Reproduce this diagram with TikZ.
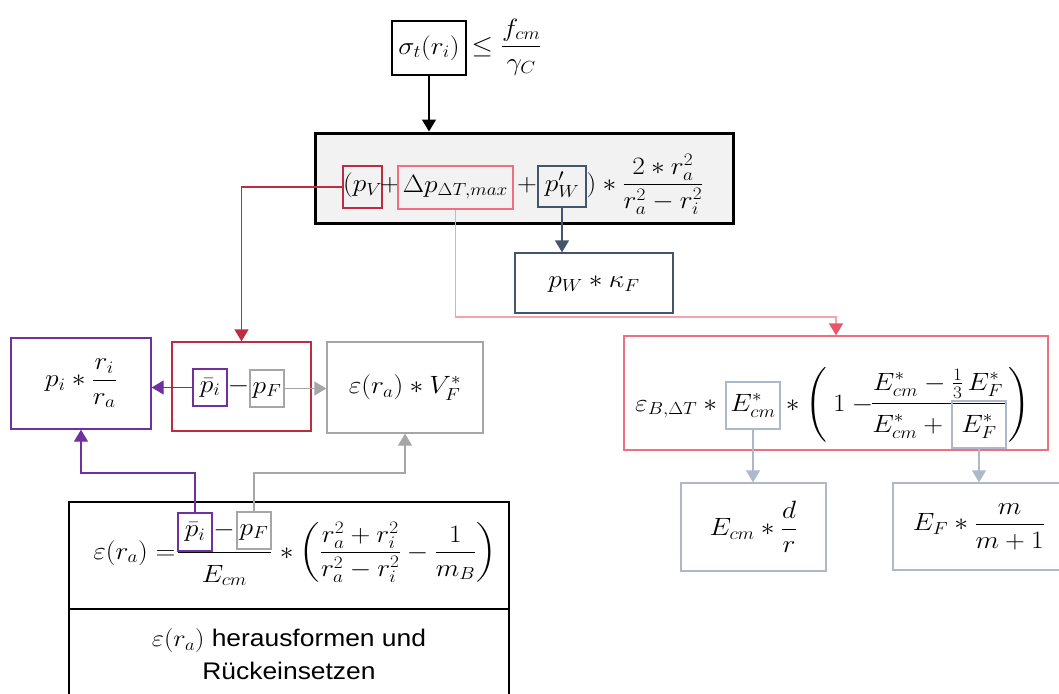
\RequirePackage{fix-cm}
\documentclass[tikz,border=0pt]{standalone}
\usepackage{amsmath}
\usepackage[no-math]{fontspec}
\usepackage{graphicx}
\usetikzlibrary{arrows.meta,calc}
\newfontfamily\lsans[FakeStretch=1.1]{Liberation Sans}
\newcommand\sx[1]{\scalebox{1.1}[1]{#1}}
\definecolor{redc}{HTML}{BE2C44}
\definecolor{pinkc}{HTML}{EE7080}
\definecolor{pinkl}{HTML}{F4A2AC}
\definecolor{pinkd}{HTML}{E8566A}
\definecolor{slatec}{HTML}{44546A}
\definecolor{purplec}{HTML}{7030A0}
\definecolor{grayc}{HTML}{A6A6A6}
\definecolor{bluec}{HTML}{ADB9CA}
\definecolor{fillg}{HTML}{F2F2F2}
\tikzset{
  bx/.style={draw, inner sep=0pt, text height=17pt, text depth=8pt},
  fm/.style={inner sep=0pt, text height=17pt, text depth=8pt},
  plainbox/.style={draw, inner sep=0pt},
  txt/.style={inner sep=0pt},
  arr/.style={-{Triangle[width=14pt,length=12pt]}, line width=1.3pt},
}
\begin{document}
\begin{tikzpicture}[x=1pt, y=-1pt, font=\fontsize{25}{30}\selectfont, line width=1.3pt]
\useasboundingbox (0,0) rectangle (1059,693);
\coordinate (pinkY) at (0,317);
\coordinate (lowY) at (0,473);

% top
\node[plainbox, draw=black, minimum width=74pt, minimum height=54pt] (sig) at (429,48) {\sx{$\sigma_t(r_i)$}};
\node[txt, anchor=base west] (sigr) at (471,53) {\sx{$\leq \dfrac{f_{cm}}{\gamma_C}$}};

% main
\node[plainbox, draw=black, fill=fillg, line width=3pt, minimum width=418pt, minimum height=90pt] (main) at (524,178) {};
\node[bx, draw=redc, minimum width=39pt, minimum height=42pt] (pv) at (362.5,187) {\sx{$(p_V$}};
\node[fm] (pl1) at (390,186.5) {\sx{$+$}};
\node[bx, draw=pinkc, minimum width=115pt, minimum height=43pt] (dp) at (455.5,187.5) {\sx{$\Delta p_{\Delta T,max}$}};
\node[fm] (pl2) at (527,186.5) {\sx{$+$}};
\node[bx, draw=slatec, minimum width=48pt, minimum height=41pt] (pw) at (562,186.5) {\sx{$p'_W$}};
\node[txt, anchor=base west] (mr) at (586,191) {\sx{$) * \dfrac{2 * r_a^2}{r_a^2 - r_i^2}$}};

\node[bx, draw=slatec, minimum width=158pt, minimum height=60pt] (PW) at (594,283) {\sx{$p_W * \kappa_F$}};

% left row
\node[plainbox, draw=purplec, minimum width=140pt, minimum height=91pt] (P) at (81,383.5) {\sx{$p_i * \dfrac{r_i}{r_a}$}};
\node[plainbox, draw=redc, minimum width=139pt, minimum height=89pt] (R) at (241.5,386.5) {};
\node[bx, draw=purplec, minimum width=34pt, minimum height=37pt] (rpb) at (210,387.5) {\sx{$\bar{p}_i$}};
\node[fm] (rmi) at (238.5,387.5) {\sx{$-$}};
\node[bx, draw=grayc, minimum width=34pt, minimum height=37pt] (rpf) at (267,388.5) {\sx{$p_F$}};
\node[plainbox, draw=grayc, minimum width=156pt, minimum height=91pt] (G) at (405,387.5) {\sx{$\varepsilon(r_a) * V_F^*$}};

% bottom
\node[plainbox, draw=black, minimum width=440pt, minimum height=107pt] (B1) at (289,555.5) {};
\node[plainbox, draw=black, minimum width=440pt, minimum height=91pt, align=center, font=\fontsize{24}{33}\selectfont\lsans] (B2) at (289,654.5) {\sx{$\varepsilon(r_a)$} herausformen und\\Rückeinsetzen};
\node[txt, anchor=base east] (bl) at (176,559) {\sx{$\varepsilon(r_a) =$}};
\node[bx, draw=purplec, minimum width=34pt, minimum height=38pt] (bpb) at (195,532) {\sx{$\bar{p}_i$}};
\node[fm] (bmi) at (224,532) {\sx{$-$}};
\node[bx, draw=grayc, minimum width=34pt, minimum height=37pt] (bpf) at (254,530.5) {\sx{$p_F$}};
\draw[line width=1pt] (178,552) -- (271,552);
\node[txt, anchor=base] (bden) at (224.5,582) {\sx{$E_{cm}$}};
\node[txt, anchor=base west] (br) at (273,559) {\sx{${}* \left(\dfrac{r_a^2+r_i^2}{r_a^2-r_i^2} - \dfrac{1}{m_B}\right)$}};

% pink
\node[plainbox, draw=pinkc, minimum width=424pt, minimum height=114pt] (PK) at (836,393) {};
\node[txt, anchor=base east] (pkl) at (724,411) {\sx{$\varepsilon_{B,\Delta T} *{}$}};
\node[bx, draw=bluec, text height=17pt, text depth=6pt, minimum width=54pt, minimum height=47pt] (ecm) at (753,405.5) {\sx{$E^*_{cm}$}};
\node[txt, anchor=base west] (pkm) at (779,411) {\sx{${}* \left(\vrule height 44pt depth 32pt width 0pt\right. 1 - {}$}};
\node[txt, anchor=base] (pkn) at (938,390) {\sx{$E^*_{cm} - \tfrac{1}{3}\,E^*_F$}};
\draw[line width=1pt] (872,403) -- (1006,403);
\node[txt, anchor=base east] (pkd) at (950,432) {\sx{$E^*_{cm} + {}$}};
\node[bx, draw=bluec, text height=19pt, text depth=4pt, minimum width=54pt, minimum height=47pt] (ef) at (979,424.5) {\sx{$E^*_F$}};
\node[txt, anchor=base west] (pkr) at (1007,411) {\sx{$\left.\vrule height 44pt depth 32pt width 0pt\right)$}};

\node[plainbox, draw=bluec, minimum width=145pt, minimum height=88pt] (D1) at (753.5,527) {\sx{$E_{cm} * \dfrac{d}{r}$}};
\node[plainbox, draw=bluec, minimum width=172pt, minimum height=87pt] (D2) at (979,526.5) {\sx{$E_F * \dfrac{m}{m+1}$}};

% connectors
\draw[arr, black] (sig.south) -- (sig.south |- main.north);
\draw[arr, redc] (pv.west) -| (R.north);
\draw[-{Triangle[width=14pt,length=12pt,color=pinkd]}, line width=1.6pt, pinkl] (dp.south) |- (pinkY -| PK.north) -- (PK.north);
\draw[arr, slatec] (pw.south) -- (pw.south |- PW.north);
\draw[arr, purplec] (rpb.west) -- (rpb.west -| P.east);
\draw[arr, grayc] (rpf.east) -- (rpf.east -| G.west);
\draw[arr, purplec] (bpb.north) |- (lowY -| P.south) -- (P.south);
\draw[arr, grayc] (bpf.north) |- (lowY -| G.south) -- (G.south);
\draw[arr, bluec] (ecm.south) -- (ecm.south |- D1.north);
\draw[arr, bluec] (ef.south) -- (ef.south |- D2.north);
\end{tikzpicture}
\end{document}
